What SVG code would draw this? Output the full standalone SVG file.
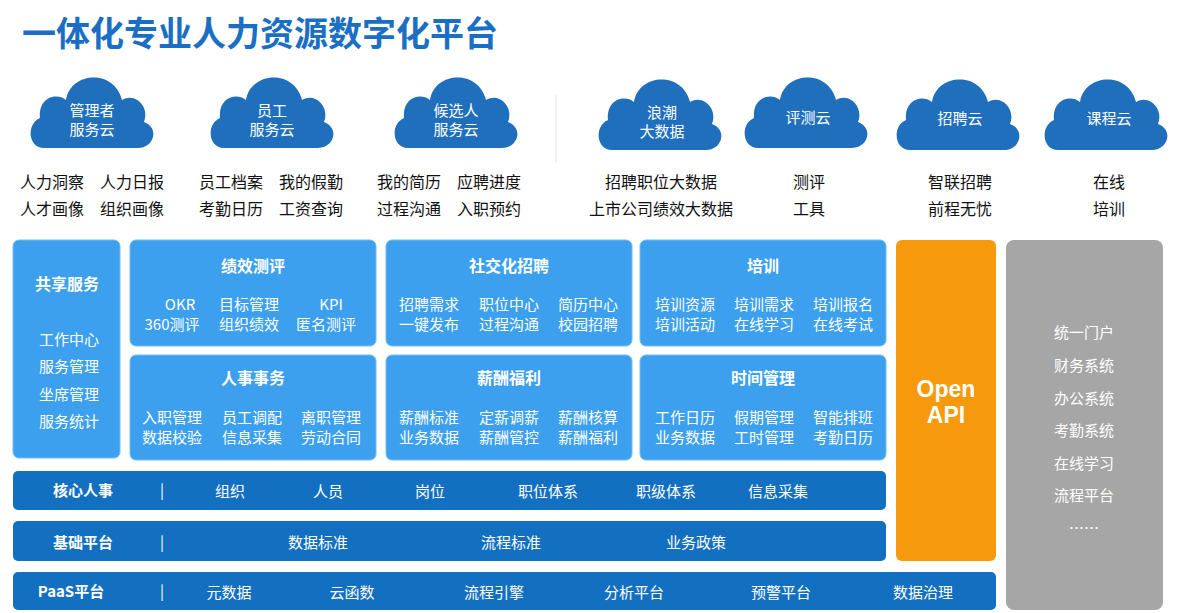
<svg xmlns="http://www.w3.org/2000/svg" width="1188" height="613" viewBox="0 0 1188 613">
<defs>
<style>
text{font-family:"Noto Sans CJK SC","Liberation Sans",sans-serif}
.t{font-size:34px;font-weight:bold;fill:#1a6fc4}
.cl{fill:#1f6fbd}
.ct{font-size:15px;fill:#fff;text-anchor:middle}
.bl{font-size:16px;fill:#111;text-anchor:middle}
.bx{fill:#3ca0ef;stroke:#6cc0f5;stroke-width:1}
.h{font-size:16px;font-weight:bold;fill:#fff;text-anchor:middle}
.w{font-size:15px;fill:#fff;text-anchor:middle}
.bar{fill:#136fbf}
.bh{font-size:15px;font-weight:bold;fill:#fff;text-anchor:middle}
.g{font-size:15px;fill:#fff;text-anchor:middle}
.api{font-family:"Liberation Sans",sans-serif;font-size:23px;font-weight:bold;fill:#fff;text-anchor:middle}
</style>
<path id="cloud" d="M-48,30 C-64,30 -66,6 -52,0 C-54,-20 -36,-26 -26,-18 C-22,-46 22,-50 30,-18 C44,-26 58,-10 52,4 C68,10 62,30 46,30 Z"/>
</defs>
<rect width="1188" height="613" fill="#fff"/>
<text class="t" x="22" y="46">一体化专业人力资源数字化平台</text>
<line x1="556" y1="95" x2="556" y2="162" stroke="#e6e6e6"/>
<g id="clouds">
<g id="c1"><use href="#cloud" class="cl" x="92" y="118"/><text class="ct" x="92" y="116">管理者</text><text class="ct" x="92" y="135">服务云</text></g>
<g id="c2"><use href="#cloud" class="cl" x="272" y="118"/><text class="ct" x="272" y="116">员工</text><text class="ct" x="272" y="135">服务云</text></g>
<g id="c3"><use href="#cloud" class="cl" x="456" y="118"/><text class="ct" x="456" y="116">候选人</text><text class="ct" x="456" y="135">服务云</text></g>
<g id="c4"><use href="#cloud" class="cl" x="660" y="120"/><text class="ct" x="662" y="118">浪潮</text><text class="ct" x="662" y="137">大数据</text></g>
<g id="c5"><use href="#cloud" class="cl" x="806" y="118"/><text class="ct" x="808" y="123">评测云</text></g>
<g id="c6"><use href="#cloud" class="cl" x="958" y="120"/><text class="ct" x="960" y="124">招聘云</text></g>
<g id="c7"><use href="#cloud" class="cl" x="1106" y="120"/><text class="ct" x="1109" y="124">课程云</text></g>
</g>
<g id="labels">
<text class="bl" x="52" y="188">人力洞察</text><text class="bl" x="132" y="188">人力日报</text>
<text class="bl" x="52" y="215">人才画像</text><text class="bl" x="132" y="215">组织画像</text>
<text class="bl" x="231" y="188">员工档案</text><text class="bl" x="311" y="188">我的假勤</text>
<text class="bl" x="231" y="215">考勤日历</text><text class="bl" x="311" y="215">工资查询</text>
<text class="bl" x="409" y="188">我的简历</text><text class="bl" x="489" y="188">应聘进度</text>
<text class="bl" x="409" y="215">过程沟通</text><text class="bl" x="489" y="215">入职预约</text>
<text class="bl" x="661" y="188">招聘职位大数据</text><text class="bl" x="661" y="215">上市公司绩效大数据</text>
<text class="bl" x="809" y="188">测评</text><text class="bl" x="809" y="215">工具</text>
<text class="bl" x="960" y="188">智联招聘</text><text class="bl" x="960" y="215">前程无忧</text>
<text class="bl" x="1109" y="188">在线</text><text class="bl" x="1109" y="215">培训</text>
</g>
<g id="shared"><rect class="bx" x="13" y="240" width="107" height="218" rx="6"/>
<text class="h" x="67" y="290">共享服务</text>
<text class="w" x="69" y="345">工作中心</text><text class="w" x="69" y="372">服务管理</text><text class="w" x="69" y="400">坐席管理</text><text class="w" x="69" y="427">服务统计</text></g>
<g id="perf"><rect class="bx" x="130" y="240" width="246" height="106" rx="6"/>
<text class="h" x="253" y="272">绩效测评</text>
<text class="w" x="180" y="310">OKR</text><text class="w" x="249" y="310">目标管理</text><text class="w" x="331" y="310">KPI</text>
<text class="w" x="172" y="330">360测评</text><text class="w" x="249" y="330">组织绩效</text><text class="w" x="326" y="330">匿名测评</text></g>
<g id="recruit"><rect class="bx" x="386" y="240" width="246" height="106" rx="6"/>
<text class="h" x="509" y="272">社交化招聘</text>
<text class="w" x="429" y="310">招聘需求</text><text class="w" x="509" y="310">职位中心</text><text class="w" x="588" y="310">简历中心</text>
<text class="w" x="429" y="330">一键发布</text><text class="w" x="509" y="330">过程沟通</text><text class="w" x="588" y="330">校园招聘</text></g>
<g id="train"><rect class="bx" x="640" y="240" width="246" height="106" rx="6"/>
<text class="h" x="763" y="272">培训</text>
<text class="w" x="685" y="310">培训资源</text><text class="w" x="764" y="310">培训需求</text><text class="w" x="843" y="310">培训报名</text>
<text class="w" x="685" y="330">培训活动</text><text class="w" x="764" y="330">在线学习</text><text class="w" x="843" y="330">在线考试</text></g>
<g id="hr"><rect class="bx" x="130" y="355" width="246" height="105" rx="6"/>
<text class="h" x="253" y="384">人事事务</text>
<text class="w" x="172" y="423">入职管理</text><text class="w" x="252" y="423">员工调配</text><text class="w" x="331" y="423">离职管理</text>
<text class="w" x="172" y="443">数据校验</text><text class="w" x="252" y="443">信息采集</text><text class="w" x="331" y="443">劳动合同</text></g>
<g id="pay"><rect class="bx" x="386" y="355" width="246" height="105" rx="6"/>
<text class="h" x="509" y="384">薪酬福利</text>
<text class="w" x="429" y="423">薪酬标准</text><text class="w" x="509" y="423">定薪调薪</text><text class="w" x="588" y="423">薪酬核算</text>
<text class="w" x="429" y="443">业务数据</text><text class="w" x="509" y="443">薪酬管控</text><text class="w" x="588" y="443">薪酬福利</text></g>
<g id="time"><rect class="bx" x="640" y="355" width="246" height="105" rx="6"/>
<text class="h" x="763" y="384">时间管理</text>
<text class="w" x="685" y="423">工作日历</text><text class="w" x="764" y="423">假期管理</text><text class="w" x="843" y="423">智能排班</text>
<text class="w" x="685" y="443">业务数据</text><text class="w" x="764" y="443">工时管理</text><text class="w" x="843" y="443">考勤日历</text></g>
<g id="core"><rect class="bar" x="13" y="471" width="873" height="39" rx="5"/>
<text class="bh" x="83" y="496">核心人事</text><text class="g" x="162" y="496">|</text>
<text class="g" x="230" y="497">组织</text><text class="g" x="328" y="497">人员</text><text class="g" x="430" y="497">岗位</text><text class="g" x="548" y="497">职位体系</text><text class="g" x="666" y="497">职级体系</text><text class="g" x="778" y="497">信息采集</text></g>
<g id="base"><rect class="bar" x="13" y="521" width="873" height="40" rx="5"/>
<text class="bh" x="83" y="548">基础平台</text><text class="g" x="162" y="548">|</text>
<text class="g" x="318" y="548">数据标准</text><text class="g" x="511" y="548">流程标准</text><text class="g" x="696" y="548">业务政策</text></g>
<g id="paas"><rect class="bar" x="13" y="572" width="983" height="38" rx="5"/>
<text class="bh" x="71" y="597">PaaS平台</text><text class="g" x="162" y="597">|</text>
<text class="g" x="229" y="598">元数据</text><text class="g" x="352" y="598">云函数</text><text class="g" x="494" y="598">流程引擎</text><text class="g" x="634" y="598">分析平台</text><text class="g" x="781" y="598">预警平台</text><text class="g" x="923" y="598">数据治理</text></g>
<g id="api"><rect x="896" y="240" width="100" height="321" rx="6" fill="#f7990c"/>
<text class="api" x="946" y="397">Open</text>
<text class="api" x="946" y="423">API</text></g>
<g id="ext"><rect x="1006" y="240" width="157" height="370" rx="8" fill="#a6a6a6"/>
<text class="g" x="1084" y="338">统一门户</text><text class="g" x="1084" y="371">财务系统</text><text class="g" x="1084" y="404">办公系统</text><text class="g" x="1084" y="436">考勤系统</text><text class="g" x="1084" y="469">在线学习</text><text class="g" x="1084" y="501">流程平台</text><text class="g" x="1084" y="534">……</text></g>
<g id="connectors"/>
</svg>
